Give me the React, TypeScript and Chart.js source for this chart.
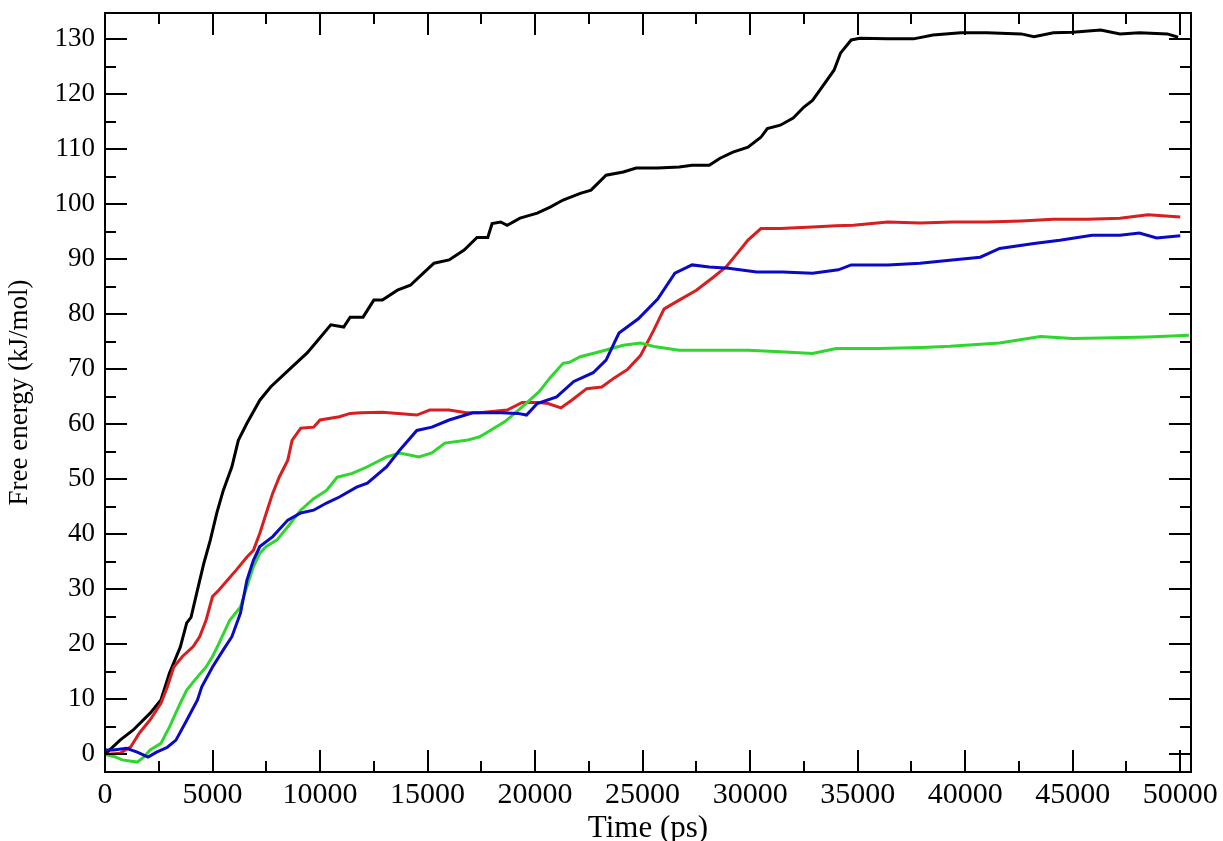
import React, { useEffect, useRef } from "react";
import { Chart, registerables } from "chart.js";

Chart.register(...registerables);

// ---- Data ----
const blackTime = [0, 700, 1300, 2100, 2600, 3000, 3500, 3800, 4000, 4300, 4600, 4900, 5200, 5500, 5900, 6200, 6600, 7200, 7700, 8300, 8900, 9400, 9900, 10500, 11100, 11400, 12000, 12500, 12900, 13600, 14200, 14800, 15300, 16000, 16700, 17300, 17800, 18000, 18400, 18700, 19300, 20100, 20700, 21300, 22100, 22600, 23300, 24100, 24700, 25700, 26700, 27300, 28100, 28600, 29200, 29900, 30500, 30800, 31400, 32000, 32500, 32900, 33300, 33900, 34200, 34700, 35100, 36400, 37600, 38500, 39800, 41000, 42600, 43200, 44100, 45000, 46300, 47200, 48100, 49400, 49900];
const blackValues = [0, 2.6, 4.4, 7.5, 9.9, 14.8, 19.5, 23.9, 24.9, 29.9, 34.8, 39, 43.9, 48, 52.3, 57.1, 60.2, 64.4, 66.8, 69, 71.2, 73, 75.3, 78.1, 77.7, 79.5, 79.5, 82.6, 82.6, 84.4, 85.3, 87.5, 89.3, 89.9, 91.7, 94, 94, 96.5, 96.8, 96.2, 97.5, 98.4, 99.5, 100.8, 102, 102.6, 105.3, 105.9, 106.6, 106.6, 106.8, 107.1, 107.1, 108.4, 109.5, 110.4, 112.2, 113.8, 114.4, 115.7, 117.7, 118.9, 121.1, 124.4, 127.5, 129.9, 130.2, 130.1, 130.1, 130.8, 131.2, 131.2, 131, 130.5, 131.2, 131.3, 131.7, 131, 131.2, 131, 130.4];

const redTime = [0, 700, 1200, 1600, 2100, 2600, 2900, 3200, 3600, 4100, 4400, 4700, 5000, 5300, 5700, 6100, 6600, 6900, 7200, 7500, 7800, 8100, 8500, 8700, 9100, 9700, 10000, 10900, 11400, 11900, 12900, 14500, 15100, 16000, 16800, 17400, 18700, 19400, 20200, 20600, 21200, 21700, 22400, 23100, 23700, 24300, 24900, 25500, 26000, 26700, 27500, 28300, 28900, 29400, 29900, 30500, 31400, 32900, 34000, 34800, 36400, 37900, 39400, 41000, 42600, 44100, 45700, 47200, 48500, 50000];
const redValues = [0, 0.2, 1.4, 3.9, 6.3, 9.3, 12.3, 15.9, 17.8, 19.6, 21.4, 24.4, 28.7, 29.9, 31.7, 33.5, 35.9, 37.1, 40.2, 43.9, 47.5, 50.4, 53.5, 57.1, 59.3, 59.5, 60.8, 61.4, 62, 62.1, 62.2, 61.7, 62.6, 62.6, 62.1, 62.1, 62.6, 64, 64, 63.8, 63, 64.4, 66.5, 66.8, 68.5, 70, 72.5, 77, 81, 82.6, 84.4, 86.8, 88.7, 91.1, 93.5, 95.6, 95.6, 95.9, 96.1, 96.2, 96.8, 96.6, 96.8, 96.8, 97, 97.3, 97.3, 97.5, 98.1, 97.7];

const greenTime = [0, 500, 800, 1500, 1800, 2100, 2600, 3000, 3500, 3800, 4300, 4700, 5000, 5300, 5800, 6300, 6600, 6900, 7200, 7500, 8000, 8500, 9100, 9700, 10300, 10800, 11500, 12200, 13100, 13700, 14600, 15200, 15800, 16800, 17400, 17700, 18600, 19400, 20200, 20700, 21300, 21600, 22100, 23000, 24100, 24900, 25600, 26700, 28300, 29900, 31400, 32900, 34000, 36000, 38000, 39300, 41600, 43500, 45000, 46300, 48500, 50400];
const greenValues = [0, -0.5, -1, -1.4, -0.5, 0.8, 2, 5, 9.3, 11.7, 14.1, 15.9, 17.8, 20.2, 24.4, 26.8, 30.5, 34.1, 36.6, 37.8, 39, 41.4, 44.4, 46.5, 48, 50.4, 51.1, 52.3, 54.1, 54.8, 54.1, 54.8, 56.6, 57.1, 57.7, 58.4, 60.5, 63.2, 66, 68.5, 71.1, 71.3, 72.3, 73.2, 74.4, 74.8, 74.1, 73.5, 73.5, 73.5, 73.2, 72.9, 73.8, 73.8, 74, 74.2, 74.8, 76, 75.6, 75.7, 75.9, 76.2];

const blueTime = [0, 400, 1000, 1500, 2000, 2400, 2900, 3300, 3800, 4300, 4500, 5000, 5500, 5900, 6300, 6600, 6900, 7200, 7800, 8500, 9100, 9700, 10300, 10900, 11700, 12200, 13100, 13700, 14500, 15200, 16000, 17100, 18400, 19200, 19600, 20100, 21000, 21800, 22700, 23300, 23900, 24800, 25700, 26500, 27300, 28100, 29000, 30300, 31500, 32900, 34100, 34700, 36400, 37900, 39400, 40700, 41600, 43200, 44400, 45900, 47200, 48100, 48900, 50000];
const blueValues = [0.8, 0.8, 1.1, 0.4, -0.5, 0.4, 1.3, 2.6, 6.2, 9.9, 12.3, 15.9, 19, 21.4, 25.7, 31.7, 35.3, 37.8, 39.6, 42.6, 43.9, 44.4, 45.7, 46.8, 48.6, 49.3, 52.3, 55.3, 58.9, 59.5, 60.8, 62.1, 62.1, 62, 61.7, 63.8, 65, 67.8, 69.4, 71.7, 76.6, 79.2, 82.8, 87.5, 89, 88.6, 88.4, 87.7, 87.7, 87.5, 88.1, 89, 89, 89.3, 89.9, 90.4, 92, 92.9, 93.5, 94.4, 94.4, 94.8, 93.9, 94.3];

const xTickValues = [0, 5000, 10000, 15000, 20000, 25000, 30000, 35000, 40000, 45000, 50000];
const yTickValues = [0, 10, 20, 30, 40, 50, 60, 70, 80, 90, 100, 110, 120, 130];
const xMinorTicks = [2500, 7500, 12500, 17500, 22500, 27500, 32500, 37500, 42500, 47500];
const yMinorTicks = [5, 15, 25, 35, 45, 55, 65, 75, 85, 95, 105, 115, 125];

const xTitle = "Time (ps)";
const yTitle = "Free energy (kJ/mol)";

const toPoints = (t: number[], v: number[]) => t.map((x, i) => ({ x, y: v[i] }));

const frameTicks = {
  id: "frameTicks",
  afterDraw(chart: any) {
    const { ctx, chartArea, scales } = chart;
    const { left, right, top, bottom } = chartArea;
    const xs = scales.x;
    const ys = scales.y;
    ctx.save();
    ctx.strokeStyle = "#000";
    ctx.lineWidth = 2;
    ctx.beginPath();
    const major = 22;
    const minor = 11;
    const drawX = (vals: number[], len: number) => {
      vals.forEach((v) => {
        const px = Math.round(xs.getPixelForValue(v));
        ctx.moveTo(px, bottom);
        ctx.lineTo(px, bottom - len);
        ctx.moveTo(px, top);
        ctx.lineTo(px, top + len);
      });
    };
    const drawY = (vals: number[], len: number) => {
      vals.forEach((v) => {
        const py = Math.round(ys.getPixelForValue(v));
        ctx.moveTo(left, py);
        ctx.lineTo(left + len, py);
        ctx.moveTo(right, py);
        ctx.lineTo(right - len, py);
      });
    };
    drawX(xTickValues, major);
    drawX(xMinorTicks, minor);
    drawY(yTickValues, major);
    drawY(yMinorTicks, minor);
    ctx.stroke();
    ctx.strokeRect(left, top, right - left, bottom - top);
    ctx.restore();
  },
};

const zeroPad = (scale: any) => {
  scale.paddingTop = 0;
  scale.paddingBottom = 0;
  scale.paddingLeft = 0;
  scale.paddingRight = 0;
};

export default function App() {
  const canvasRef = useRef<HTMLCanvasElement | null>(null);

  useEffect(() => {
    if (!canvasRef.current) return;
    const serif = "'Liberation Serif', 'Times New Roman', serif";
    const chart = new Chart(canvasRef.current, {
      type: "line",
      data: {
        datasets: [
          { label: "black", data: toPoints(blackTime, blackValues), borderColor: "#000000", order: 4 },
          { label: "red", data: toPoints(redTime, redValues), borderColor: "#d81e1e", order: 3 },
          { label: "green", data: toPoints(greenTime, greenValues), borderColor: "#2ed62e", order: 2 },
          { label: "blue", data: toPoints(blueTime, blueValues), borderColor: "#0a0ac4", order: 1 },
        ].map((d) => ({ ...d, borderWidth: 3, pointRadius: 0, tension: 0, fill: false })),
      },
      options: {
        responsive: false,
        animation: false,
        events: [],
        layout: { padding: { top: 13, right: 32, left: 0, bottom: 0 } },
        plugins: { legend: { display: false }, tooltip: { enabled: false } },
        scales: {
          x: {
            type: "linear",
            min: 0,
            max: 50500,
            afterBuildTicks: (scale: any) => {
              scale.ticks = xTickValues.map((value) => ({ value }));
            },
            afterFit: (scale: any) => {
              scale.height = 69;
              zeroPad(scale);
            },
            grid: { display: false, drawTicks: false },
            border: { display: false },
            ticks: {
              color: "#000",
              padding: 5,
              maxRotation: 0,
              autoSkip: false,
              font: { family: serif, size: 30 },
              callback: (v: any) => String(v),
            },
            title: {
              display: true,
              text: xTitle,
              color: "#000",
              padding: { top: 0, bottom: 0 },
              font: { family: serif, size: 31, lineHeight: 0.8 },
            },
          },
          y: {
            type: "linear",
            min: -3.2,
            max: 134.8,
            afterBuildTicks: (scale: any) => {
              scale.ticks = yTickValues.map((value) => ({ value }));
            },
            afterFit: (scale: any) => {
              scale.width = 105;
              zeroPad(scale);
            },
            grid: { display: false, drawTicks: false },
            border: { display: false },
            ticks: {
              color: "#000",
              padding: 10,
              autoSkip: false,
              font: { family: serif, size: 27 },
              callback: (v: any) => String(v),
            },
            title: {
              display: true,
              text: yTitle,
              color: "#000",
              padding: { top: 4, bottom: 0 },
              font: { family: serif, size: 27, lineHeight: 1.2 },
            },
          },
        },
      },
      plugins: [frameTicks],
    } as any);
    return () => chart.destroy();
  }, []);

  return (
    <div style={{ position: "absolute", left: 0, top: 0, width: 1223, height: 841, background: "#fff" }}>
      <canvas ref={canvasRef} width={1223} height={841} style={{ display: "block" }} />
    </div>
  );
}
